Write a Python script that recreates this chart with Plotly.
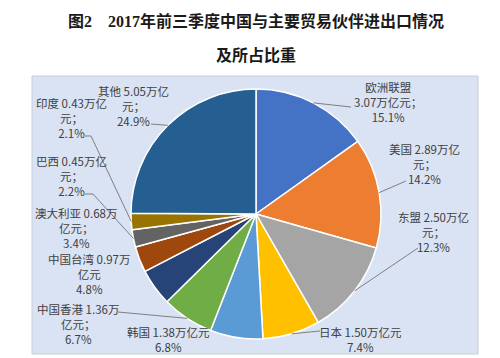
import math
import plotly.graph_objects as go

# ---- data ----
partners = ["欧洲联盟", "美国", "东盟", "日本", "韩国", "中国香港", "中国台湾",
            "澳大利亚", "巴西", "印度", "其他"]
values = [3.07, 2.89, 2.50, 1.50, 1.38, 1.36, 0.97, 0.68, 0.45, 0.43, 5.05]
shares = ["15.1%", "14.2%", "12.3%", "7.4%", "6.8%", "6.7%", "4.8%",
          "3.4%", "2.2%", "2.1%", "24.9%"]
label_texts = [
    "欧洲联盟<br>3.07万亿元；<br>15.1%",
    "美国 2.89万亿<br>元；<br>14.2%",
    "东盟 2.50万亿<br>元；<br>12.3%",
    "日本 1.50万亿元<br>7.4%",
    "韩国 1.38万亿元<br>6.8%",
    "中国香港 1.36万<br>亿元；<br>6.7%",
    "中国台湾 0.97万<br>亿元<br>4.8%",
    "澳大利亚 0.68万<br>亿元；<br>3.4%",
    "巴西 0.45万亿<br>元；<br>2.2%",
    "印度 0.43万亿<br>元；<br>2.1%",
    "其他 5.05万亿<br>元；<br>24.9%",
]
colors = ["#4472C4", "#ED7D31", "#A5A5A5", "#FFC000", "#5B9BD5", "#70AD47",
          "#264478", "#9E480E", "#636363", "#997300", "#255E91"]

# ---- layout (pixels) ----
W, H = 500, 358
CX, CY, R = 248, 206, 125          # pie centre / radius (pixels from top-left)

# label block centres (pixels) and leader-line label-side points (None = no line)
label_pos = [(380, 94), (416, 156), (425, 224), (352, 331), (160, 331),
             (70, 316), (81, 266), (68, 220), (63, 168), (63, 110), (125, 98)]
leader_start = [[(343, 99)], [(398, 173)], [(410, 240)], [(312, 323)], None,
                [(110, 304)], None, None, [(77, 186), (85, 186)],
                [(77, 128), (83, 128)], [(143, 116)]]

def px(x):
    return x / W

def py(y):
    return 1 - y / H

fig = go.Figure()
fig.add_trace(go.Pie(
    labels=partners, values=values, sort=False, direction="clockwise",
    rotation=0, textinfo="none", hoverinfo="label+value+percent",
    marker=dict(colors=colors, line=dict(color="white", width=1.5)),
    domain=dict(x=[px(CX - R), px(CX + R)], y=[py(CY + R), py(CY - R)]),
    showlegend=False,
))

shapes = [dict(type="rect", xref="paper", yref="paper",
               x0=px(24), x1=px(470), y0=py(346), y1=py(68),
               fillcolor="#DAE3F3", line=dict(color="#C8CCD4", width=1),
               layer="below")]

total = sum(values)
cum = 0.0
annotations = []
for i, v in enumerate(values):
    mid = (cum + v / 2) / total * 2 * math.pi
    cum += v
    ex = CX + R * math.sin(mid)
    ey = CY - R * math.cos(mid)
    if leader_start[i]:
        pts = leader_start[i] + [(ex, ey)]
        path = "M " + " L ".join(f"{px(x):.4f},{py(y):.4f}" for x, y in pts)
        shapes.append(dict(type="path", xref="paper", yref="paper", path=path,
                           line=dict(color="#7F7F7F", width=1), layer="above"))
    lx, ly = label_pos[i]
    annotations.append(dict(x=px(lx), y=py(ly), xref="paper", yref="paper",
                            text=label_texts[i], showarrow=False, align="center",
                            xanchor="center", yanchor="middle",
                            font=dict(family="Noto Sans CJK SC", size=11.5,
                                      color="#404040")))

title_font = dict(family="Liberation Serif, Noto Sans CJK SC", size=16,
                  color="#1A1A1A", weight="bold")
annotations.append(dict(x=px(248), y=py(13), xref="paper", yref="paper",
                        text="图2　2017年前三季度中国与主要贸易伙伴进出口情况",
                        showarrow=False, xanchor="center", yanchor="middle",
                        font=title_font))
annotations.append(dict(x=px(248), y=py(47), xref="paper", yref="paper",
                        text="及所占比重", showarrow=False,
                        xanchor="center", yanchor="middle", font=title_font))

fig.update_layout(width=W, height=H, margin=dict(l=0, r=0, t=0, b=0),
                  paper_bgcolor="white", plot_bgcolor="white",
                  shapes=shapes, annotations=annotations)

fig.write_html("out.html")
